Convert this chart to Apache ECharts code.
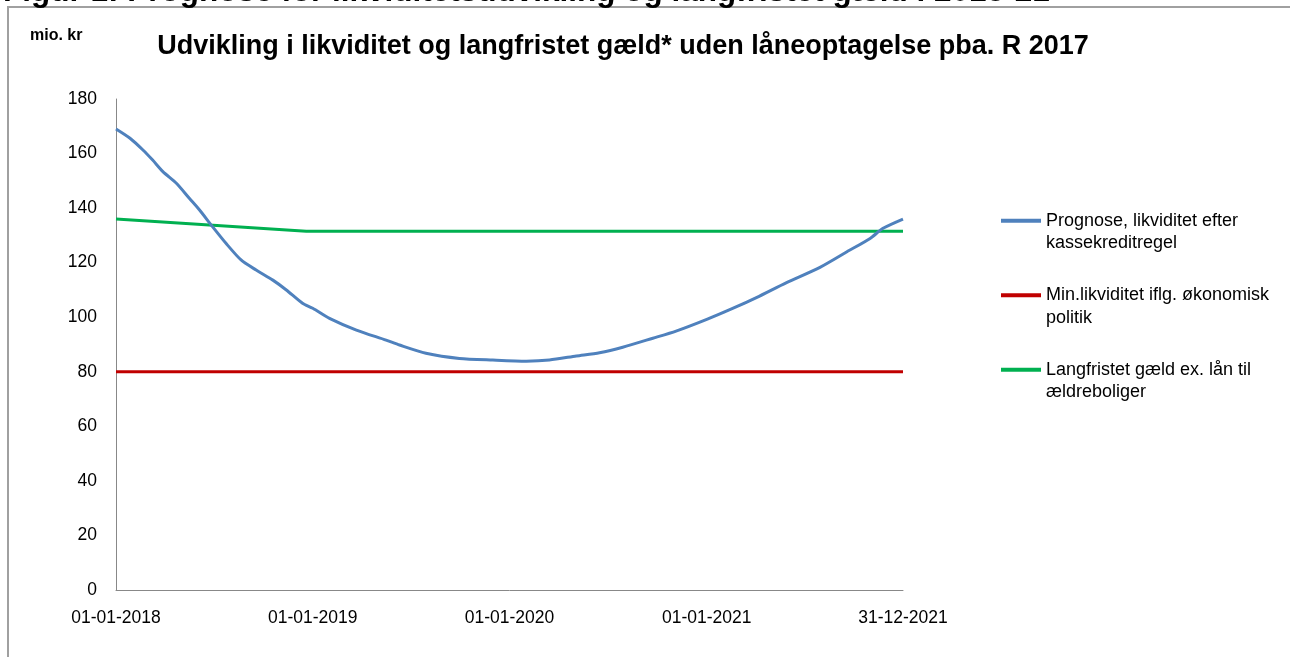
<!DOCTYPE html>
<html>
<head>
<meta charset="utf-8">
<script src="https://cdn.jsdelivr.net/npm/echarts@6/dist/echarts.min.js"></script>
<style>
html,body{margin:0;padding:0;background:#fff;}
#c{width:1290px;height:657px;}
</style>
</head>
<body>
<div id="c"></div>
<script>
// ---- data ----
var seriesNames = [
  'Prognose, likviditet efter\nkassekreditregel',
  'Min.likviditet iflg. økonomisk\npolitik',
  'Langfristet gæld ex. lån til\nældreboliger'
];
var blueDates = ['2018-01-01','2018-01-27','2018-02-20','2018-03-10','2018-03-29','2018-04-23','2018-05-17','2018-06-05','2018-06-29','2018-07-24','2018-08-21','2018-09-18','2018-10-19','2018-11-13','2018-12-13','2019-01-01','2019-02-01','2019-03-23','2019-05-17','2019-06-11','2019-07-30','2019-09-30','2019-12-01','2020-02-01','2020-03-15','2020-05-04','2020-06-16','2020-07-29','2020-09-23','2020-11-05','2021-01-01','2021-02-19','2021-04-04','2021-05-29','2021-07-30','2021-09-18','2021-10-31','2021-11-24','2021-12-31'];
var blueValues = [169.0,165.6,161.3,157.6,153.4,149.1,143.6,139.3,133.2,127.1,121.0,117.3,113.6,110.0,105.1,103.3,99.6,95.3,91.6,89.8,86.8,84.9,84.3,83.9,84.3,85.8,87.0,89.0,92.3,94.9,99.2,103.3,107.3,112.7,118.3,124.0,128.9,132.6,136.0];
var redDates = ['2018-01-01','2021-12-31'];
var redValues = [80, 80];
var greenDates = ['2018-01-01','2018-12-20','2021-12-31'];
var greenValues = [136.0, 131.5, 131.5];
var xTickDates = ['2018-01-01','2019-01-01','2020-01-01','2021-01-01','2021-12-31'];
var yMin = 0, yMax = 180, yStep = 20;
var titleText = 'Udvikling i likviditet og langfristet gæld* uden låneoptagelse pba. R 2017';
var captionText = 'Figur 1: Prognose for likviditetsudvikling og langfristet gæld i 2018-21';
var unitText = 'mio. kr';

function zip(d, v){ return d.map(function(x,i){ return [x, v[i]]; }); }
function ts(s){ var p=s.split('-'); return Date.UTC(+p[0], +p[1]-1, +p[2]); }
function pad(n){ return (n<10?'0':'')+n; }
function fmt(t){ var d=new Date(t); return pad(d.getUTCDate())+'-'+pad(d.getUTCMonth()+1)+'-'+d.getUTCFullYear(); }

var FONT = 'Liberation Sans';
var chart = echarts.init(document.getElementById('c'), null, {renderer:'canvas'});
var option = {
  animation: false,
  textStyle: {fontFamily: FONT},
  grid: {left: 116, right: 387, top: 99, bottom: 67, containLabel: false},
  title: {
    text: titleText,
    left: 623, top: 33, textAlign: 'center', padding: 0,
    textStyle: {fontFamily: FONT, fontSize: 27, fontWeight: 'bold', color: '#000'}
  },
  graphic: [
    {type:'rect', shape:{x:8, y:7, width:1400, height:800}, style:{fill:'none', stroke:'#a0a0a0', lineWidth:2}, silent:true, z:0},
    {type:'text', x:3, y:8, style:{text: captionText, font:'bold 31.5px "Liberation Sans"', fill:'#000', verticalAlign:'bottom', align:'left'}},
    {type:'text', x:30, y:36, style:{text: unitText, font:'bold 16px "Liberation Sans"', fill:'#000', verticalAlign:'middle', align:'left'}}
  ],
  legend: {
    orient: 'vertical',
    left: 1001, top: 187, padding: 0,
    itemWidth: 40, itemHeight: 4, itemGap: 7,
    icon: 'rect',
    data: seriesNames,
    formatter: function(name){ return '\n' + name; },
    textStyle: {fontFamily: FONT, fontSize: 18, color: '#000', lineHeight: 22.5}
  },
  xAxis: {
    type: 'value',
    min: ts(xTickDates[0]), max: ts(xTickDates[xTickDates.length-1]),
    axisLine: {show:true, lineStyle:{color:'#888', width:1}},
    axisTick: {show:false},
    splitLine: {show:false},
    axisLabel: {
      customValues: xTickDates.map(ts),
      formatter: function(v){ return fmt(v); },
      fontFamily: FONT, fontSize: 17.5, color: '#000', margin: 19
    }
  },
  yAxis: {
    type: 'value', min: yMin, max: yMax, interval: yStep,
    axisLine: {show:true, lineStyle:{color:'#888', width:1}},
    axisTick: {show:false},
    splitLine: {show:false},
    axisLabel: {fontFamily: FONT, fontSize: 17.5, color: '#000', margin: 19}
  },
  series: [
    {name: seriesNames[0], type:'line', data: zip(blueDates.map(ts), blueValues), showSymbol:false, symbol:'none', smooth: 0.25, lineStyle:{color:'#4F81BD', width:3}, itemStyle:{color:'#4F81BD'}, z:4},
    {name: seriesNames[1], type:'line', data: zip(redDates.map(ts), redValues), showSymbol:false, symbol:'none', lineStyle:{color:'#C00000', width:3}, itemStyle:{color:'#C00000'}, z:3},
    {name: seriesNames[2], type:'line', data: zip(greenDates.map(ts), greenValues), showSymbol:false, symbol:'none', lineStyle:{color:'#00B050', width:3}, itemStyle:{color:'#00B050'}, z:3}
  ]
};
chart.setOption(option);
</script>
</body>
</html>
